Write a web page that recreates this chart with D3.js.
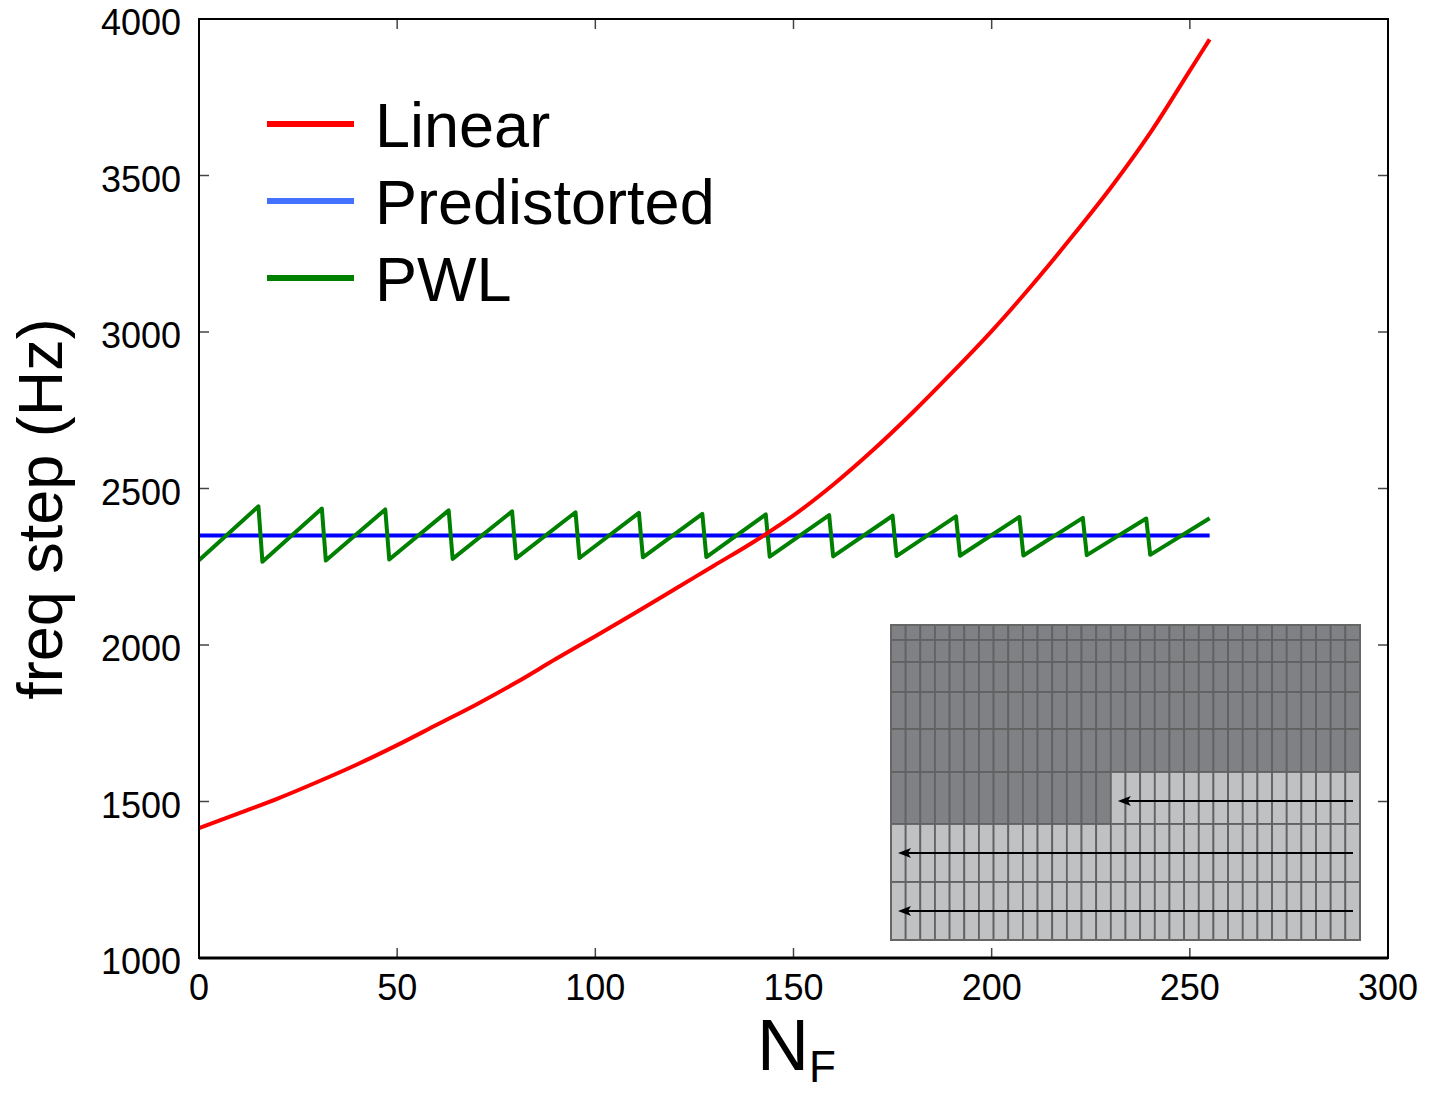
<!DOCTYPE html>
<html><head><meta charset="utf-8">
<script src="https://cdn.jsdelivr.net/npm/d3@7"></script>
<style>
body{margin:0;background:#fff}
svg{display:block}
text{font-family:"Liberation Sans",Arial,Helvetica,sans-serif;fill:#000}
</style>
</head><body>
<svg id="chart" width="1431" height="1095"></svg>
<script>
// ---------- data ----------
const linearN  = [0,10,20,30,40,50,60,70,80,90,100,110,120,130,140,150,160,170,180,190,200,210,220,230,240,250,255];
const linearHz = [1415,1462,1510,1563,1619,1680,1745,1810,1880,1955,2028,2102,2178,2254,2330,2414,2512,2622,2742,2870,3003,3147,3300,3460,3636,3835,3935];

const predistN  = [0,255];
const predistHz = [2350,2350];

const pwlN  = [0,15,16,31,32,47,48,63,64,79,80,95,96,111,112,127,128,143,144,159,160,175,176,191,192,207,208,223,224,239,240,255];
const pwlHz = [2271,2443,2266,2436,2270,2433,2273,2430,2275,2427,2277,2424,2278,2422,2280,2419,2281,2417,2282,2415,2283,2413,2284,2411,2285,2409,2286,2406,2287,2404,2288,2405];

const seriesNames = ["Linear","Predistorted","PWL"];
const xTicks = [0,50,100,150,200,250,300];
const yTicks = [1000,1500,2000,2500,3000,3500,4000];

// inset schematic (memory map): relative row heights, column count, filled cells
const insetRowWeights = [15,22,30,37,43,52,58,58];
const insetCols = 32;
const insetFullRows = 5;      // rows completely filled (dark)
const insetPartialCols = 15;  // dark columns in the next row
const insetArrowRows = [5,6,7];

// ---------- layout ----------
const svg = d3.select("#chart");
const L = 199, R = 1388, T = 19, B = 958;
const x = d3.scaleLinear().domain([0,300]).range([L,R]);
const y = d3.scaleLinear().domain([1000,4000]).range([B,T]);

const colors = {line:["#ff0000","#0000ff","#008000"], legend:["#ff0000","#4272ff","#008000"]};

// ---------- inset ----------
const inset = svg.append("g");
const ix = d3.scaleLinear().domain([0,insetCols]).range([891,1360]);
const cum = [0]; insetRowWeights.forEach(w=>cum.push(cum[cum.length-1]+w));
const iy = d3.scaleLinear().domain([0,cum[cum.length-1]]).range([625,940]);
const cells = [];
insetRowWeights.forEach((w,r)=>{
  for(let c=0;c<insetCols;c++){
    const dark = r<insetFullRows || (r===insetFullRows && c<insetPartialCols);
    cells.push({r,c,dark});
  }
});
inset.selectAll("rect.cell").data(cells).enter().append("rect")
  .attr("x",d=>ix(d.c)).attr("y",d=>iy(cum[d.r]))
  .attr("width",d=>ix(d.c+1)-ix(d.c)).attr("height",d=>iy(cum[d.r+1])-iy(cum[d.r]))
  .attr("fill",d=>d.dark?"#7f8184":"#c0c1c3")
  .attr("stroke","#626262").attr("stroke-width",1.8);
inset.append("rect").attr("x",ix(0)).attr("y",iy(0))
  .attr("width",ix(insetCols)-ix(0)).attr("height",iy(cum[cum.length-1])-iy(0))
  .attr("fill","none").attr("stroke","#666").attr("stroke-width",2);
insetArrowRows.forEach(r=>{
  const yy = (iy(cum[r])+iy(cum[r+1]))/2 + (r===5?3:0);
  const x1 = ix(insetCols)-7;
  const x0 = (r===5? ix(insetPartialCols):ix(0)) + 7;
  inset.append("line").attr("x1",x1).attr("x2",x0+8).attr("y1",yy).attr("y2",yy)
    .attr("stroke","#000").attr("stroke-width",1.8);
  inset.append("path").attr("d",`M${x0},${yy} L${x0+13},${yy-5} L${x0+10},${yy} L${x0+13},${yy+5} Z`)
    .attr("fill","#000");
});

// ---------- series ----------
const line = d3.line().x(d=>x(d[0])).y(d=>y(d[1]));
const zip = (a,b)=>a.map((v,i)=>[v,b[i]]);
svg.append("path").attr("d",line(zip(predistN,predistHz))).attr("fill","none")
  .attr("stroke",colors.line[1]).attr("stroke-width",4);
svg.append("path").attr("d",line(zip(pwlN,pwlHz))).attr("fill","none")
  .attr("stroke",colors.line[2]).attr("stroke-width",4).attr("stroke-linejoin","round");
svg.append("path").attr("d",d3.line().x(d=>x(d[0])).y(d=>y(d[1])).curve(d3.curveCatmullRom)(zip(linearN,linearHz)))
  .attr("fill","none").attr("stroke",colors.line[0]).attr("stroke-width",4);

// ---------- frame and ticks ----------
const tickLen = 10;
const gt = svg.append("g").attr("stroke","#444").attr("stroke-width",1.5);
xTicks.forEach(t=>{
  gt.append("line").attr("x1",x(t)).attr("x2",x(t)).attr("y1",B).attr("y2",B-tickLen);
  gt.append("line").attr("x1",x(t)).attr("x2",x(t)).attr("y1",T).attr("y2",T+tickLen);
});
yTicks.forEach(t=>{
  gt.append("line").attr("x1",L).attr("x2",L+tickLen).attr("y1",y(t)).attr("y2",y(t));
  gt.append("line").attr("x1",R).attr("x2",R-tickLen).attr("y1",y(t)).attr("y2",y(t));
});
svg.append("rect").attr("x",L).attr("y",T).attr("width",R-L).attr("height",B-T)
  .attr("fill","none").attr("stroke","#000").attr("stroke-width",2);
svg.append("line").attr("x1",L).attr("x2",R).attr("y1",B).attr("y2",B).attr("stroke","#000").attr("stroke-width",3);

svg.selectAll("text.xt").data(xTicks).enter().append("text")
  .attr("x",d=>x(d)).attr("y",B+42).attr("text-anchor","middle")
  .attr("font-size",36).text(d=>d);
svg.selectAll("text.yt").data(yTicks).enter().append("text")
  .attr("x",L-18).attr("y",d=>y(d)+16).attr("text-anchor","end")
  .attr("font-size",36).text(d=>d);

// axis titles
svg.append("text").attr("transform","translate(62,509) rotate(-90)")
  .attr("text-anchor","middle").attr("font-size",63).text("freq step (Hz)");
const xl = svg.append("text").attr("x",757).attr("y",1070).attr("font-size",72);
xl.append("tspan").text("N");
xl.append("tspan").attr("font-size",44).attr("dy",12).text("F");

// ---------- legend ----------
const legY = [124,201,278];
seriesNames.forEach((name,i)=>{
  svg.append("line").attr("x1",267).attr("x2",354).attr("y1",legY[i]).attr("y2",legY[i])
    .attr("stroke",colors.legend[i]).attr("stroke-width",6);
  svg.append("text").attr("x",375).attr("y",legY[i]+23).attr("font-size",63).text(name);
});
</script>
</body></html>
